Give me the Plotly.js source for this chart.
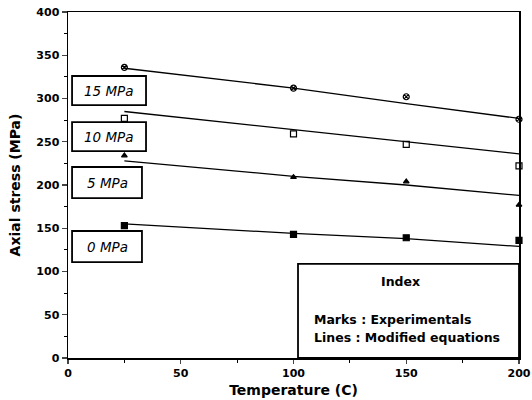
<!DOCTYPE html>
<html><head><meta charset="utf-8">
<script src="https://cdn.plot.ly/plotly-3.0.1.min.js"></script>
<style>html,body{margin:0;padding:0;background:#fff}</style>
</head><body><div id="chart" style="width:532px;height:400px"></div>
<script>
// Data
const temps = [25, 100, 150, 200];
const exp15 = [336, 312, 302, 276];
const exp10 = [277, 259, 247, 222];
const exp5  = [234, 209, 204, 177];
const exp0  = [153, 143, 139, 136];
const model15 = [335, 312, 294, 277];
const model10 = [285, 264, 250, 236];
const model5  = [228, 210, 200, 188];
const model0  = [155, 144, 138, 129];
const seriesLabels = ["15 MPa", "10 MPa", "5 MPa", "0 MPa"];
const xTicks = [0, 50, 100, 150, 200];
const yTicks = [0, 50, 100, 150, 200, 250, 300, 350, 400];

const F = "DejaVu Sans, sans-serif";
function lineTrace(y){return {x:temps,y:y,mode:"lines",line:{color:"#000",width:1.3},hoverinfo:"skip",showlegend:false,cliponaxis:false};}
function markTrace(y,sym,size){return {x:temps,y:y,mode:"markers",marker:{symbol:sym,size:size,color:"#000",line:{color:"#000",width:1.2}},showlegend:false,cliponaxis:false};}

const data = [
  lineTrace(model15), lineTrace(model10), lineTrace(model5), lineTrace(model0),
  markTrace(exp15,"circle-x-open",6),
  markTrace(exp10,"square-open",6),
  markTrace(exp5,"triangle-up",5),
  markTrace(exp0,"square",6)
];

const boxes = [
  {x0:0.009,x1:0.173,y0:0.731,y1:0.815},
  {x0:0.009,x1:0.173,y0:0.598,y1:0.682},
  {x0:0.009,x1:0.164,y0:0.462,y1:0.552},
  {x0:0.009,x1:0.164,y0:0.277,y1:0.367}
];
const shapes = boxes.map(b=>({type:"rect",xref:"paper",yref:"paper",x0:b.x0,x1:b.x1,y0:b.y0,y1:b.y1,line:{color:"#000",width:1.8},fillcolor:"#fff",layer:"above"}));
shapes.push({type:"rect",xref:"paper",yref:"paper",x0:0.51,x1:1,y0:0,y1:0.272,line:{color:"#000",width:1.8},fillcolor:"#fff",layer:"above"});

const annotations = boxes.map((b,i)=>({xref:"paper",yref:"paper",x:(b.x0+b.x1)/2,y:(b.y0+b.y1)/2,text:"<i>"+seriesLabels[i]+"</i>",showarrow:false,font:{family:F,size:13.5,color:"#000"},xanchor:"center",yanchor:"middle"}));
annotations.push({xref:"paper",yref:"paper",x:0.738,y:0.222,text:"<b>Index</b>",showarrow:false,font:{family:F,size:12.5,color:"#000",weight:"bold"},xanchor:"center",yanchor:"middle"});
annotations.push({xref:"paper",yref:"paper",x:0.54,y:0.11,text:"<b>Marks : Experimentals</b>",showarrow:false,font:{family:F,size:12.5,color:"#000",weight:"bold"},xanchor:"left",yanchor:"middle"});
annotations.push({xref:"paper",yref:"paper",x:0.54,y:0.058,text:"<b>Lines : Modified equations</b>",showarrow:false,font:{family:F,size:12.5,color:"#000",weight:"bold"},xanchor:"left",yanchor:"middle"});

const layout = {
  width:532,height:400,
  margin:{l:68,r:13,t:12,b:42},
  paper_bgcolor:"#fff",plot_bgcolor:"#fff",
  font:{family:F,color:"#000"},
  xaxis:{range:[0,200],tickmode:"array",tickvals:xTicks,ticktext:xTicks.map(v=>"<b>"+v+"</b>"),ticks:"outside",ticklen:4,tickwidth:1.2,
    minor:{tickmode:"linear",tick0:0,dtick:25,ticks:"outside",ticklen:3,tickwidth:1,tickcolor:"#000"},
    showgrid:false,zeroline:false,showline:true,linecolor:"#000",linewidth:1.5,mirror:true,
    tickfont:{family:F,size:11,weight:"bold"},
    title:{text:"<b>Temperature (C)</b>",font:{family:F,size:14,weight:"bold"},standoff:6}},
  yaxis:{range:[0,400],tickmode:"array",tickvals:yTicks,ticktext:yTicks.map(v=>"<b>"+v+"</b>"),ticks:"outside",ticklen:5,tickwidth:1.2,
    minor:{tickmode:"linear",tick0:0,dtick:25,ticks:"outside",ticklen:3,tickwidth:1,tickcolor:"#000"},
    showgrid:false,zeroline:false,showline:true,linecolor:"#000",linewidth:1.5,mirror:true,
    tickfont:{family:F,size:11,weight:"bold"},
    title:{text:"<b>Axial stress (MPa)</b>",font:{family:F,size:14,weight:"bold"},standoff:12}},
  shapes:shapes,annotations:annotations,showlegend:false
};
Plotly.newPlot("chart",data,layout,{displayModeBar:false,staticPlot:true});
</script></body></html>
